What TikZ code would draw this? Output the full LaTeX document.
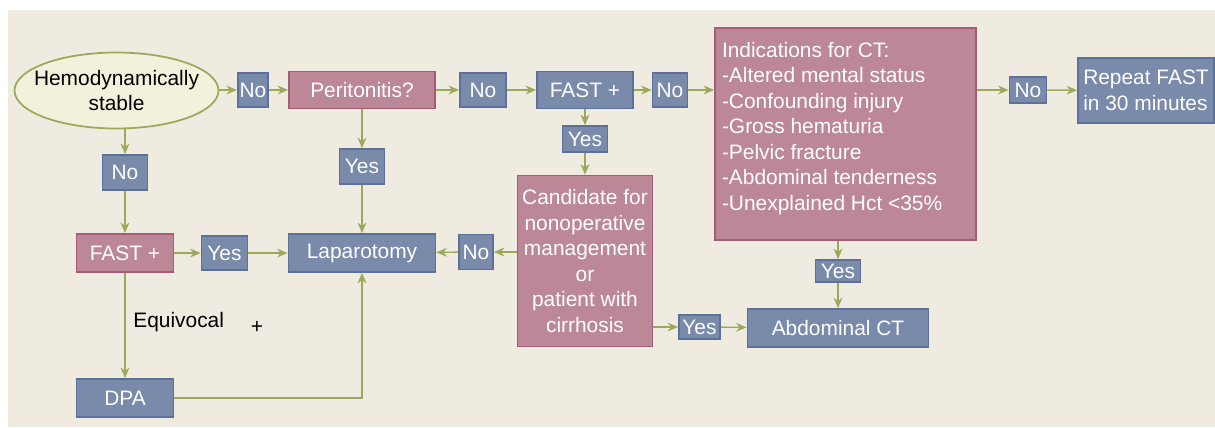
\documentclass[tikz,border=0pt]{standalone}
\usepackage{fontspec}
\setmainfont{Liberation Sans}
\usetikzlibrary{shapes.geometric,arrows.meta}
\definecolor{bgbeige}{HTML}{EFEBE1}
\definecolor{pinkfill}{HTML}{BC8897}
\definecolor{pinkline}{HTML}{A65C75}
\definecolor{bluefill}{HTML}{7A8AAA}
\definecolor{blueline}{HTML}{5C7099}
\definecolor{arrowgreen}{HTML}{9AAA5A}
\definecolor{ovalfill}{HTML}{F3F1DB}

\begin{document}
\begin{tikzpicture}[x=0.02cm,y=-0.02cm,
	box/.style={draw,line width=1pt,text=white,inner sep=1pt,font=\fontsize{11.9}{14.5}\selectfont},
	pinkbox/.style={box,fill=pinkfill,draw=pinkline},
	bluebox/.style={box,fill=bluefill,draw=blueline},
	link/.style={arrowgreen,line width=0.8pt,-{Stealth[length=6pt,width=5pt]}}]
	\useasboundingbox (0,0) rectangle (1215,427);
	\fill[bgbeige] (8,10) rectangle (1215,427);
	% top row
	\node[ellipse,draw=arrowgreen,line width=1pt,fill=ovalfill,minimum width=4.08cm,minimum height=1.52cm,inner sep=0pt] (hemo) at (116.5,90.5) {};
	\node[align=center,inner sep=0pt,font=\fontsize{11.9}{14.5}\selectfont] (hemotext) at (hemo.center) {Hemodynamically\\stable};
	\node[bluebox,minimum width=0.6cm,minimum height=0.68cm] (noA) at (253,90) {No};
	\node[pinkbox,minimum width=2.92cm,minimum height=0.74cm] (peri) at (362,90) {Peritonitis?};
	\node[bluebox,minimum width=0.92cm,minimum height=0.68cm] (noB) at (483,90) {No};
	\node[bluebox,minimum width=1.92cm,minimum height=0.74cm] (fastB) at (585,90) {FAST +};
	\node[bluebox,minimum width=0.7cm,minimum height=0.68cm] (noC) at (670,90) {No};
	\node[pinkbox,minimum width=5.22cm,minimum height=4.24cm] (ind) at (845.5,134) {};
	\node[box,draw=none,fill=none,inner sep=0pt,anchor=north west,align=left] (indtext) at ([xshift=0.14cm,yshift=-0.28cm]ind.north west) {Indications for CT:\\-Altered mental status\\-Confounding injury\\-Gross hematuria\\-Pelvic fracture\\-Abdominal tenderness\\-Unexplained Hct <35\%};
	\node[bluebox,minimum width=0.74cm,minimum height=0.52cm] (noD) at (1028,90) {No};
	\node[bluebox,minimum width=2.72cm,minimum height=1.3cm,align=left] (rep) at (1146,90.5) {Repeat FAST\\in 30 minutes};
	% middle
	\node[bluebox,minimum width=0.9cm,minimum height=0.7cm] (noF) at (125,172.5) {No};
	\node[bluebox,minimum width=0.9cm,minimum height=0.7cm] (yesE) at (362,166.5) {Yes};
	\node[bluebox,minimum width=0.9cm,minimum height=0.52cm] (yesA) at (585,139) {Yes};
	\node[pinkbox,minimum width=2.7cm,minimum height=3.42cm,align=center] (cand) at (585,261) {Candidate for\\nonoperative\\management\\or\\patient with\\cirrhosis};
	\node[pinkbox,minimum width=1.94cm,minimum height=0.76cm] (fastP) at (125,253) {FAST +};
	\node[bluebox,minimum width=0.92cm,minimum height=0.68cm] (yesD) at (224.5,253) {Yes};
	\node[bluebox,minimum width=2.94cm,minimum height=0.76cm] (lap) at (362,253) {Laparotomy};
	\node[bluebox,minimum width=0.68cm,minimum height=0.7cm] (noE) at (476,252) {No};
	\node[bluebox,minimum width=0.9cm,minimum height=0.44cm] (yesB) at (838,271) {Yes};
	% bottom
	\node[bluebox,minimum width=0.82cm,minimum height=0.48cm] (yesC) at (699.5,327) {Yes};
	\node[bluebox,minimum width=3.62cm,minimum height=0.76cm] (ct) at (838,328) {Abdominal CT};
	\node[bluebox,minimum width=1.94cm,minimum height=0.76cm] (dpa) at (125,398) {DPA};
	\node[anchor=base west,inner sep=0pt,font=\fontsize{11.9}{14.5}\selectfont] (equiv) at (133,327) {Equivocal};
	\node[anchor=base,inner sep=0pt,font=\fontsize{11.9}{14.5}\selectfont] (plus) at (257,333) {+};
	% connectors
	\draw[link] (hemo.east |- noA) -- (noA);
	\draw[link] (noA) -- (peri);
	\draw[link] (peri) -- (noB);
	\draw[link] (noB) -- (fastB);
	\draw[link] (fastB) -- (noC);
	\draw[link] (noC) -- (noC -| ind.west);
	\draw[link] (ind.east |- noD) -- (noD);
	\draw[link] (noD) -- (rep);
	\draw[link] (hemo.south -| noF) -- (noF);
	\draw[link] (noF) -- (fastP);
	\draw[link] (fastP) -- (yesD);
	\draw[link] (yesD) -- (lap);
	\draw[link] (fastP) -- (dpa);
	\draw[link] (dpa.east) -| (lap.south);
	\draw[link] (peri) -- (yesE);
	\draw[link] (yesE) -- (lap);
	\draw[link] (fastB) -- (yesA);
	\draw[link] (yesA) -- (cand);
	\draw[link] (cand.west |- noE) -- (noE);
	\draw[link] (noE) -- (lap);
	\draw[link] (cand.east |- yesC) -- (yesC);
	\draw[link] (yesC) -- (ct);
	\draw[link] (ind.south -| yesB) -- (yesB);
	\draw[link] (yesB) -- (ct);
\end{tikzpicture}
\end{document}
